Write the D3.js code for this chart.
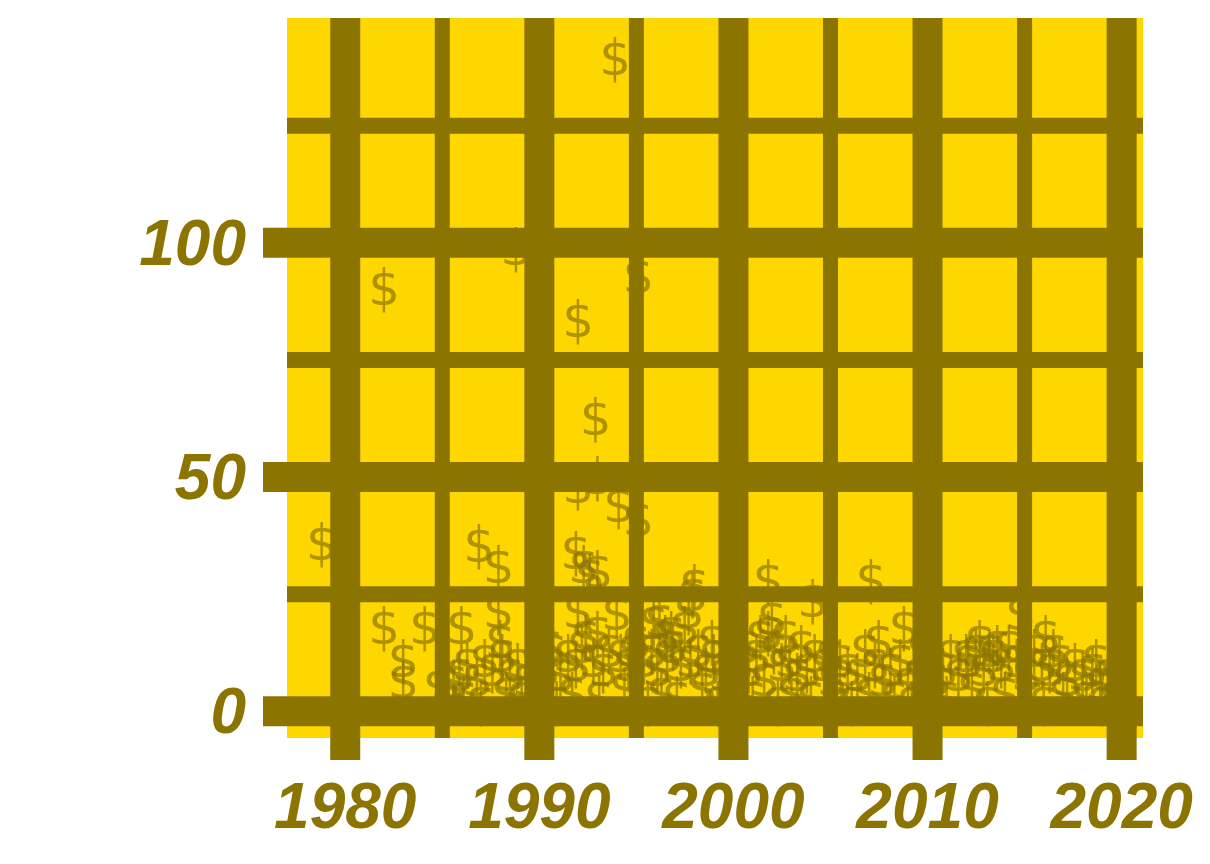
<!DOCTYPE html>
<html><head><meta charset="utf-8">
<script src="https://cdn.jsdelivr.net/npm/d3@7"></script>
<style>body{margin:0;background:#fff}</style></head>
<body><svg id="c" width="1210" height="864"></svg>
<script>
const xTicks = [1980, 1990, 2000, 2010, 2020];
const xMinor = [1985, 1995, 2005, 2015];
const yTicks = [0, 50, 100];
const yMinor = [25, 75, 125];
const years = [1993.9,1982.0,1988.8,1995.1,1992.0,1992.9,1978.8,1992.0,1993.0,1994.1,1995.1,1986.9,1987.9,1991.9,1993.0,1982.0,1984.1,1986.0,1983.0,1983.0,1998.0,1997.9,2001.8,2004.1,2007.1,2008.8,2014.8,2002.0,2001.8,1992.0,1993.0,1994.0,1996.2,1997.7,1987.9,1985.6,1984.8,1992.3,1992.6,1996.5,
1985.2,1985.9,1986.3,1986.8,1987.2,1987.6,1988.1,1988.5,1988.9,1989.4,1989.8,1990.3,1990.7,1991.1,1991.5,1991.9,1992.2,1992.8,1993.3,1993.6,1994.2,1994.6,1995.0,1995.4,1995.8,1996.1,1996.6,1996.9,1997.3,1997.8,1998.2,1998.6,1999.0,1999.5,1999.9,2000.3,2000.8,2001.2,2001.6,2002.1,2002.5,2002.9,2003.3,2003.8,2004.2,2004.7,2005.1,2005.5,2005.9,2006.4,2006.8,2007.3,2007.7,2008.1,2008.6,2009.0,2009.5,2009.9,2010.4,2010.8,2011.2,2011.6,2012.1,2012.5,2012.9,2013.4,2013.8,2014.2,2014.6,2015.1,2015.5,2015.9,2016.3,2016.8,2017.2,2017.6,2018.0,2018.5,2018.9,2019.3,2019.8,
1986.1,1987.0,1988.3,1989.1,1990.0,1990.9,1991.7,1993.1,1994.4,1995.6,1996.3,1997.1,1998.4,1999.2,2000.1,2001.0,2002.3,2003.0,2004.0,2005.3,2006.1,2007.0,2008.3,2009.2,2010.1,2011.0,2012.3,2013.1,2014.0,2015.3,2016.0,2017.0,2018.2,2019.0,2019.6,
1988.0,1990.5,1992.4,1994.8,1996.8,1998.9,2000.6,2002.7,2005.0,2007.5,2009.7,2012.0,2013.6,2016.5,2018.7,1997.5,1995.9,2001.4,2003.5,2012.7,2013.2,2016.1];
const values = [139.5,90.4,99,93,83.5,62.6,36,48,50,44,41,35.5,31,34,30,18,18,18,11,6.5,27,25,28,23.7,28,18,21,20,17,21.5,17,21,19.5,21.5,21.5,6.5,5.5,31,29,16,
6,8,10,7,11,9,12,8,10,7,11,9,13,8,12,10,14,11,9,13,12,10,15,11,13,9,12,14,10,11,13,9,12,8,11,10,9,12,7,13,10,11,8,9,12,10,7,11,9,8,13,10,7,9,11,6,8,10,7,9,12,8,11,13,9,12,10,14,11,8,13,10,9,11,7,10,8,9,6,8,7,
3,2,4,3,5,2,4,3,5,2,4,3,5,2,4,3,2,4,3,5,2,4,3,2,4,3,5,2,4,3,2,4,3,2,3,
15,14,16,13,17,15,14,16,12,15,13,12,14,13,11,18,19,16,14,15,13,16];

const svg = d3.select('#c');
const m = {l: 287, r: 1143, t: 18, b: 738};
const x = d3.scaleLinear().domain([1977.0, 2021.1]).range([m.l, m.r]);
const y = d3.scaleLinear().domain([-5.7, 148]).range([m.b, m.t]);
const olive = '#8b7500', gold = '#ffd700';

svg.append('rect').attr('x', m.l).attr('y', m.t).attr('width', m.r - m.l).attr('height', m.b - m.t).attr('fill', gold);

svg.append('g').selectAll('text').data(years.map((d, i) => [d, values[i]])).join('text')
  .attr('x', d => x(d[0])).attr('y', d => y(d[1]))
  .attr('text-anchor', 'middle').attr('dominant-baseline', 'central')
  .attr('font-family', 'DejaVu Sans, sans-serif').attr('font-size', 50)
  .attr('fill', olive).attr('fill-opacity', 0.7).text('$');

const g = svg.append('g');
g.selectAll('.ymn').data(yMinor).join('line').attr('x1', m.l).attr('x2', m.r).attr('y1', d => y(d)).attr('y2', d => y(d)).attr('stroke', olive).attr('stroke-width', 16);
g.selectAll('.xmn').data(xMinor).join('line').attr('y1', m.t).attr('y2', m.b).attr('x1', d => x(d)).attr('x2', d => x(d)).attr('stroke', olive).attr('stroke-width', 15);
g.selectAll('.ymj').data(yTicks).join('line').attr('x1', 263).attr('x2', m.r).attr('y1', d => y(d)).attr('y2', d => y(d)).attr('stroke', olive).attr('stroke-width', 30);
g.selectAll('.xmj').data(xTicks).join('line').attr('y1', m.t).attr('y2', 760).attr('x1', d => x(d)).attr('x2', d => x(d)).attr('stroke', olive).attr('stroke-width', 30);

const lab = {'font-family': 'Liberation Sans, Arial, sans-serif', 'font-weight': 'bold', 'font-style': 'italic', 'font-size': 64, fill: olive};
const yl = svg.append('g').selectAll('text').data(yTicks).join('text')
  .attr('x', 246).attr('y', d => y(d)).attr('text-anchor', 'end').attr('dominant-baseline', 'central').text(d => d);
const xl = svg.append('g').selectAll('text').data(xTicks).join('text')
  .attr('x', d => x(d)).attr('y', 828).attr('text-anchor', 'middle').text(d => d);
for (const [k, v] of Object.entries(lab)) { yl.attr(k, v); xl.attr(k, v); }
</script></body></html>
